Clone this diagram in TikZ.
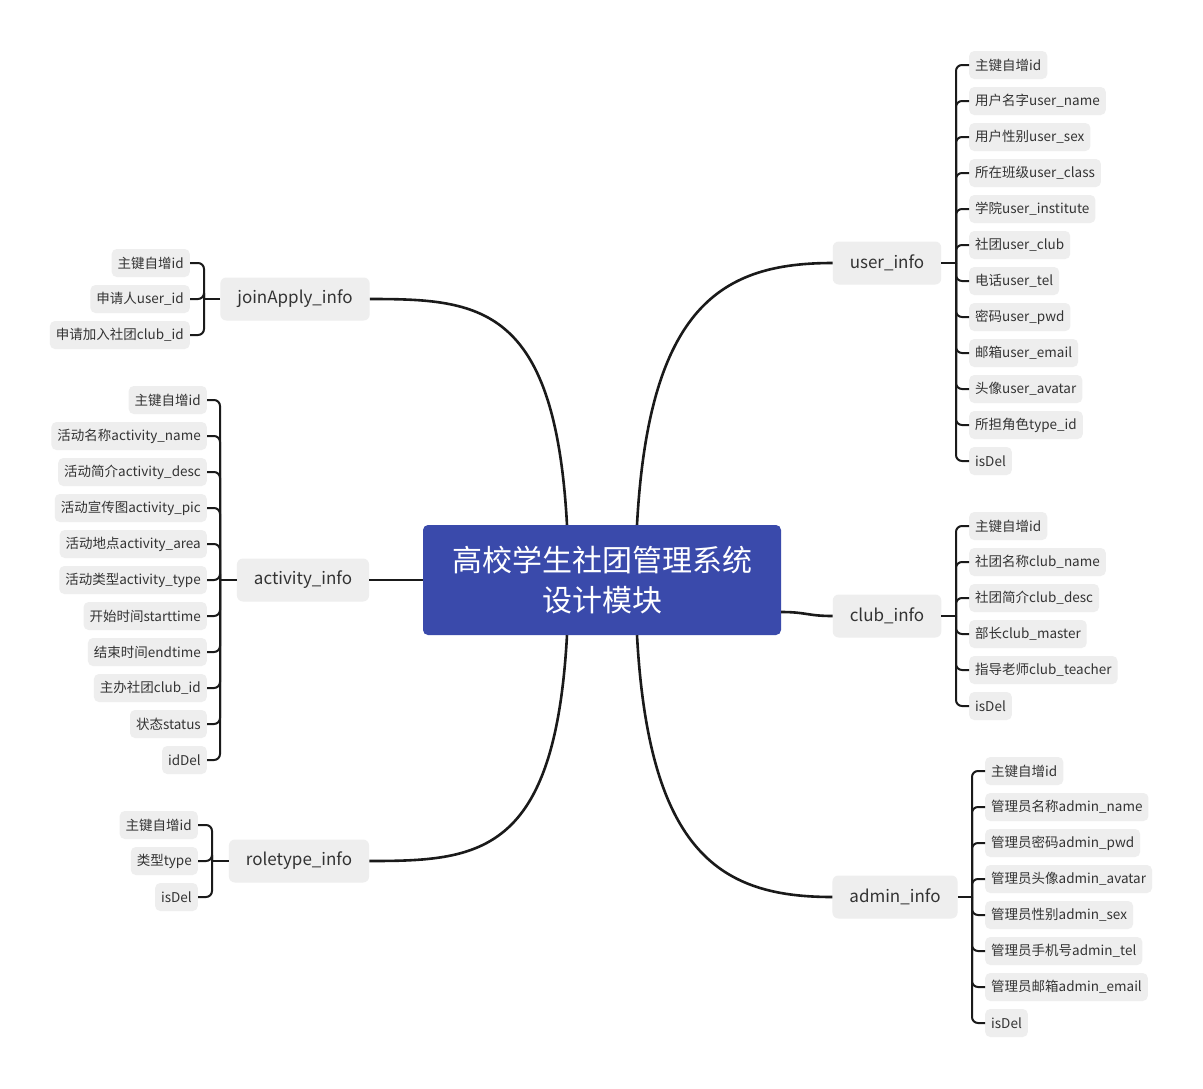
\documentclass[tikz,border=0pt]{standalone}
\usepackage{fontspec}
\setmainfont{Noto Sans CJK SC}
\usetikzlibrary{calc}
\definecolor{MmBlue}{RGB}{58,74,171}
\definecolor{MmGray}{RGB}{238,238,238}
\definecolor{MmText}{RGB}{51,51,51}
\definecolor{MmLine}{RGB}{26,26,26}
\tikzset{
  mm/root/.style={
    rectangle,
    rounded corners=5pt,
    fill=MmBlue,
    text=white,
    align=center,
    minimum width=358pt,
    minimum height=110pt,
    font=\fontsize{30}{40}\selectfont
  },
  mm/topic/.style={
    rectangle,
    rounded corners=6pt,
    fill=MmGray,
    text=MmText,
    minimum height=43pt,
    inner xsep=17pt,
    font=\fontsize{17}{20}\selectfont
  },
  mm/leaf/.style={
    rectangle,
    rounded corners=5pt,
    fill=MmGray,
    text=MmText,
    minimum height=28pt,
    inner xsep=6pt,
    font=\fontsize{13.5}{16}\selectfont
  },
  mm/rleaf/.style={mm/leaf, anchor=west},
  mm/lleaf/.style={mm/leaf, anchor=east},
  mm/link/.style={draw=MmLine, line width=2.6pt},
  mm/branch/.style={draw=MmLine, line width=2pt, rounded corners=6pt}
}

\begin{document}
\begin{tikzpicture}[x=1pt,y=-1pt]
  \useasboundingbox[fill=white] (0,0) rectangle (1203,1088);

  % centre and topics
  \node[mm/root] (root) at (602,580) {高校学生社团管理系统\\设计模块};
  \node[mm/topic] (user) at (887,263) {user\_info};
  \node[mm/topic] (club) at (887,616) {club\_info};
  \node[mm/topic] (admin) at (895,897) {admin\_info};
  \node[mm/topic] (join) at (295,299) {joinApply\_info};
  \node[mm/topic] (act) at (303,580) {activity\_info};
  \node[mm/topic] (role) at (299,861) {roletype\_info};

  % user_info fields
  \node[mm/rleaf] (u1) at (969,65) {主键自增id};
  \node[mm/rleaf] (u2) at (969,101) {用户名字user\_name};
  \node[mm/rleaf] (u3) at (969,137) {用户性别user\_sex};
  \node[mm/rleaf] (u4) at (969,173) {所在班级user\_class};
  \node[mm/rleaf] (u5) at (969,209) {学院user\_institute};
  \node[mm/rleaf] (u6) at (969,245) {社团user\_club};
  \node[mm/rleaf] (u7) at (969,281) {电话user\_tel};
  \node[mm/rleaf] (u8) at (969,317) {密码user\_pwd};
  \node[mm/rleaf] (u9) at (969,353) {邮箱user\_email};
  \node[mm/rleaf] (u10) at (969,389) {头像user\_avatar};
  \node[mm/rleaf] (u11) at (969,425) {所担角色type\_id};
  \node[mm/rleaf] (u12) at (969,461) {isDel};

  % club_info fields
  \node[mm/rleaf] (c1) at (969,526) {主键自增id};
  \node[mm/rleaf] (c2) at (969,562) {社团名称club\_name};
  \node[mm/rleaf] (c3) at (969,598) {社团简介club\_desc};
  \node[mm/rleaf] (c4) at (969,634) {部长club\_master};
  \node[mm/rleaf] (c5) at (969,670) {指导老师club\_teacher};
  \node[mm/rleaf] (c6) at (969,706) {isDel};

  % admin_info fields
  \node[mm/rleaf] (a1) at (985,771) {主键自增id};
  \node[mm/rleaf] (a2) at (985,807) {管理员名称admin\_name};
  \node[mm/rleaf] (a3) at (985,843) {管理员密码admin\_pwd};
  \node[mm/rleaf] (a4) at (985,879) {管理员头像admin\_avatar};
  \node[mm/rleaf] (a5) at (985,915) {管理员性别admin\_sex};
  \node[mm/rleaf] (a6) at (985,951) {管理员手机号admin\_tel};
  \node[mm/rleaf] (a7) at (985,987) {管理员邮箱admin\_email};
  \node[mm/rleaf] (a8) at (985,1023) {isDel};

  % joinApply_info fields
  \node[mm/lleaf] (j1) at (190,263) {主键自增id};
  \node[mm/lleaf] (j2) at (190,299) {申请人user\_id};
  \node[mm/lleaf] (j3) at (190,335) {申请加入社团club\_id};

  % activity_info fields
  \node[mm/lleaf] (ac1) at (207,400) {主键自增id};
  \node[mm/lleaf] (ac2) at (207,436) {活动名称activity\_name};
  \node[mm/lleaf] (ac3) at (207,472) {活动简介activity\_desc};
  \node[mm/lleaf] (ac4) at (207,508) {活动宣传图activity\_pic};
  \node[mm/lleaf] (ac5) at (207,544) {活动地点activity\_area};
  \node[mm/lleaf] (ac6) at (207,580) {活动类型activity\_type};
  \node[mm/lleaf] (ac7) at (207,616) {开始时间starttime};
  \node[mm/lleaf] (ac8) at (207,652) {结束时间endtime};
  \node[mm/lleaf] (ac9) at (207,688) {主办社团club\_id};
  \node[mm/lleaf] (ac10) at (207,724) {状态status};
  \node[mm/lleaf] (ac11) at (207,760) {idDel};

  % roletype_info fields
  \node[mm/lleaf] (r1) at (198,825) {主键自增id};
  \node[mm/lleaf] (r2) at (198,861) {类型type};
  \node[mm/lleaf] (r3) at (198,897) {isDel};

  % links from the centre
  \draw[mm/link] ([xshift=35pt]root.north) .. controls +(12,-220) and +(-110,0) .. (user.west);
  \draw[mm/link] ([yshift=-32pt]root.east) .. controls +(25,0) and +(-25,0) .. (club.west);
  \draw[mm/link] ([xshift=35pt]root.south) .. controls +(12,220) and +(-110,0) .. (admin.west);
  \draw[mm/link] ([xshift=-35pt]root.north) .. controls +(-12,-220) and +(110,0) .. (join.east);
  \draw[mm/link] (root.west) -- (act.east);
  \draw[mm/link] ([xshift=-35pt]root.south) .. controls +(-12,220) and +(110,0) .. (role.east);

  % field brackets
  \coordinate (uhub) at (956,263);
  \coordinate (chub) at (956,616);
  \coordinate (ahub) at (972,897);
  \coordinate (jhub) at (204,299);
  \coordinate (achub) at (220,580);
  \coordinate (rhub) at (212,861);
  \draw[mm/branch] (user.east) -- (uhub);
  \draw[mm/branch] (club.east) -- (chub);
  \draw[mm/branch] (admin.east) -- (ahub);
  \draw[mm/branch] (join.west) -- (jhub);
  \draw[mm/branch] (act.west) -- (achub);
  \draw[mm/branch] (role.west) -- (rhub);
  \foreach \i in {1,...,12} \draw[mm/branch] (uhub) |- (u\i.west);
  \foreach \i in {1,...,6} \draw[mm/branch] (chub) |- (c\i.west);
  \foreach \i in {1,...,8} \draw[mm/branch] (ahub) |- (a\i.west);
  \foreach \i in {1,...,3} \draw[mm/branch] (jhub) |- (j\i.east);
  \foreach \i in {1,...,11} \draw[mm/branch] (achub) |- (ac\i.east);
  \foreach \i in {1,...,3} \draw[mm/branch] (rhub) |- (r\i.east);
\end{tikzpicture}
\end{document}
